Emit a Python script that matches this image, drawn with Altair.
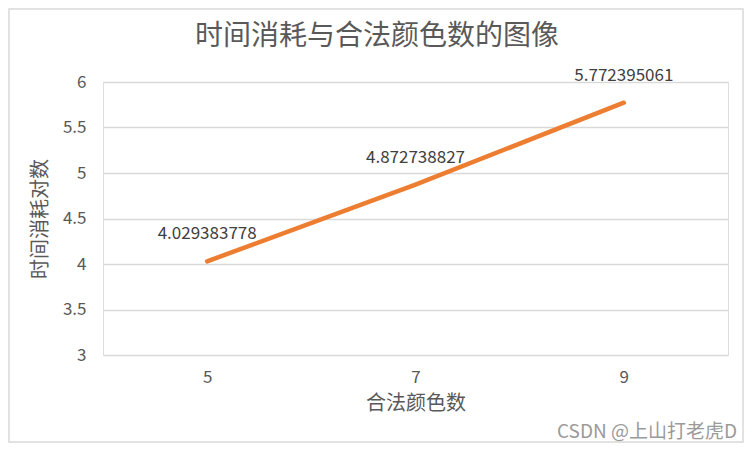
import altair as alt
import pandas as pd

colors_count = ["5", "7", "9"]
time_log = [4.029383778, 4.872738827, 5.772395061]
label_text = ["4.029383778", "4.872738827", "5.772395061"]

df = pd.DataFrame({"x": colors_count, "y": time_log, "lab": label_text})

FONT = "Noto Sans CJK SC"
W, H = 625, 273
PL, PT = 95, 74
PR, PB = 736 - PL - W, 435 - PT - H

xenc = alt.X("x:O", sort=colors_count,
             scale=alt.Scale(type="point", padding=0.5),
             axis=alt.Axis(title="合法颜色数", labelAngle=0, domain=False, ticks=False,
                           grid=False, labelPadding=14, titlePadding=8,
                           labelFontSize=17, titleFontSize=20, labelColor="#595959",
                           titleColor="#595959", labelFont=FONT, titleFont=FONT,
                           titleFontWeight="normal"))
yenc = alt.Y("y:Q", scale=alt.Scale(domain=[3, 6], nice=False, zero=False),
             axis=alt.Axis(title="时间消耗对数", values=[3, 3.5, 4, 4.5, 5, 5.5, 6],
                           format=".1~f",
                           domain=False, ticks=False, grid=True, gridColor="#d9d9d9",
                           gridWidth=1.3, labelPadding=17, titlePadding=12,
                           labelFontSize=17, titleFontSize=20, labelColor="#595959",
                           titleColor="#595959", labelFont=FONT, titleFont=FONT,
                           titleFontWeight="normal"))

line = alt.Chart(df).mark_line(color="#ED7D31", strokeWidth=4.5, strokeCap="round").encode(
    x=xenc, y=yenc)

labels = alt.Chart(df).mark_text(fontSize=17, color="#404040", font=FONT, dy=-27).encode(
    x=alt.X("x:O", sort=colors_count), y="y:Q", text="lab:N")

title_txt = alt.Chart(pd.DataFrame({"t": ["时间消耗与合法颜色数的图像"]})).mark_text(
    fontSize=28, color="#595959", font=FONT, align="center", baseline="middle").encode(
    x=alt.value(377 - PL - 8), y=alt.value(37 - PT - 8), text="t:N")

mark_note = alt.Chart(pd.DataFrame({"t": ["CSDN @上山打老虎D"]})).mark_text(
    fontSize=19, color="#9a9a9a", font=FONT, align="right", baseline="middle").encode(
    x=alt.value(737 - PL - 8), y=alt.value(432 - PT - 8), text="t:N")

border = alt.Chart(pd.DataFrame({"a": [0]})).mark_rect(
    fill=None, stroke="#d9d9d9", strokeWidth=1.5).encode(
    x=alt.value(-PL + 1), x2=alt.value(W + PR - 1),
    y=alt.value(-PT + 1), y2=alt.value(H + PB - 1))

chart = alt.layer(border, line, labels, title_txt, mark_note).properties(
    width=W, height=H,
    padding={"left": PL, "top": PT, "right": PR, "bottom": PB},
    autosize=alt.AutoSizeParams(type="none"),
).configure_view(stroke=None).configure(background="white")

chart.save("out.html", embed_options={"renderer": "svg", "actions": False})
